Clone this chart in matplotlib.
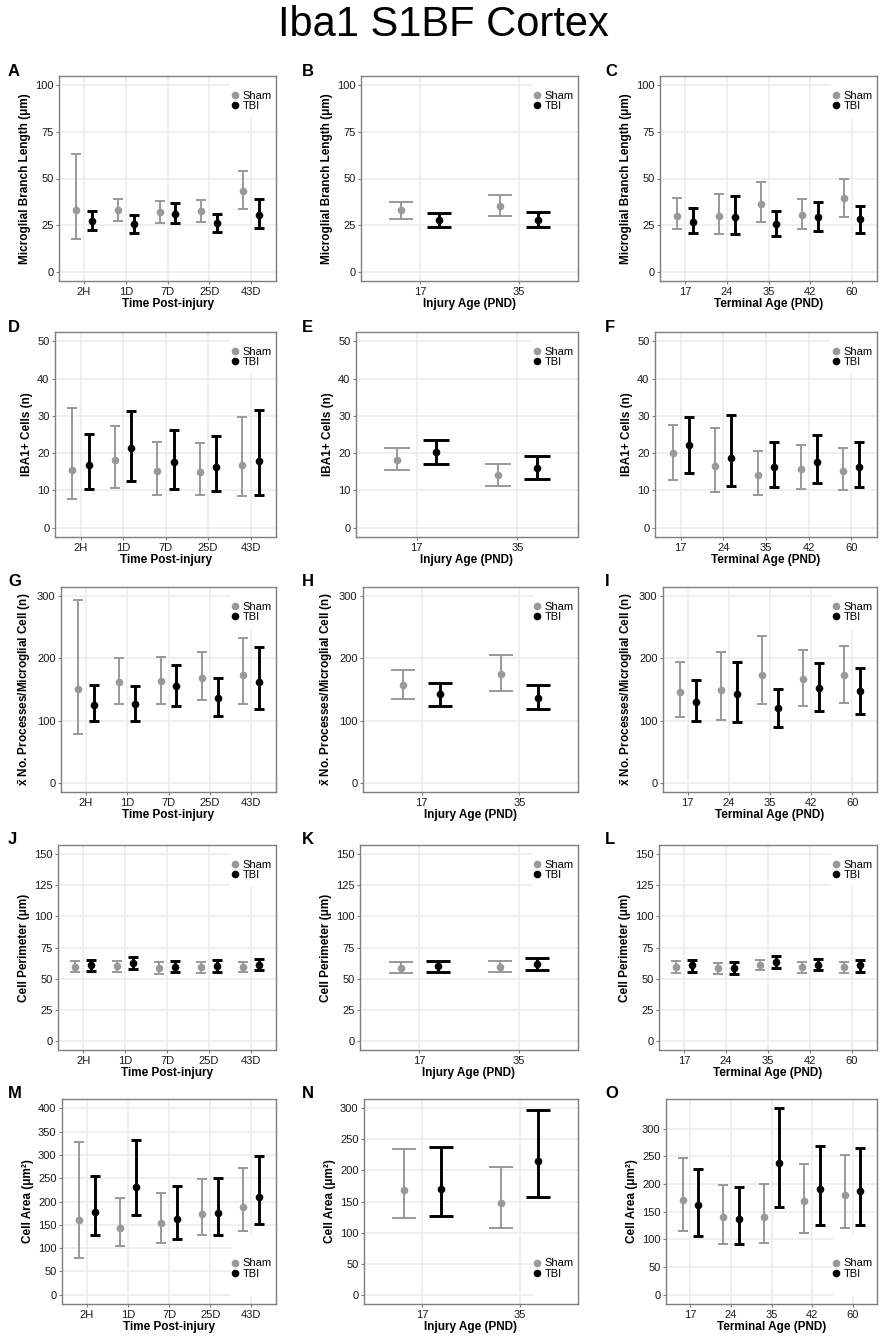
import matplotlib.pyplot as plt
from matplotlib.lines import Line2D
from matplotlib.patches import Rectangle

plt.rcParams['font.family'] = ['Liberation Sans', 'DejaVu Sans']
plt.rcParams['mathtext.fontset'] = 'custom'
plt.rcParams['mathtext.bf'] = 'Liberation Sans:bold'

# categories
time_cats = ["2H", "1D", "7D", "25D", "43D"]
injury_cats = ["17", "35"]
terminal_cats = ["17", "24", "35", "42", "60"]

# each entry: (mean, lower, upper)
# branch length
a_sham = [(33.0, 17.5, 63.4), (33.0, 27.0, 39.0), (31.8, 25.9, 37.9), (32.7, 26.8, 38.6), (43.2, 33.6, 54.0)]
a_tbi = [(27.1, 22.3, 32.5), (25.5, 20.9, 30.4), (31.2, 25.9, 37.0), (25.9, 21.4, 30.9), (30.4, 23.2, 38.8)]
b_sham = [(32.9, 28.2, 37.5), (35.2, 29.8, 41.1)]
b_tbi = [(27.7, 24.1, 31.6), (27.7, 23.8, 32.1)]
c_sham = [(29.8, 22.7, 39.3), (29.8, 20.2, 41.8), (36.1, 26.8, 48.2), (30.4, 22.9, 38.8), (39.8, 29.5, 49.5)]
c_tbi = [(26.8, 20.5, 34.3), (29.3, 20.0, 40.7), (25.5, 18.9, 32.5), (29.3, 22.0, 37.3), (28.2, 20.9, 35.4)]

# IBA1+ cells
d_sham = [(15.6, 7.6, 32.0), (18.2, 10.6, 27.4), (15.1, 8.75, 23.1), (14.9, 8.75, 22.8), (16.9, 8.5, 29.6)]
d_tbi = [(16.7, 10.3, 25.2), (21.3, 12.5, 31.4), (17.6, 10.3, 26.3), (16.3, 9.8, 24.6), (17.9, 8.8, 31.7)]
e_sham = [(18.2, 15.4, 21.4), (14.2, 11.3, 17.1)]
e_tbi = [(20.2, 17.2, 23.4), (16.0, 13.1, 19.1)]
f_sham = [(20.0, 12.8, 27.6), (16.5, 9.7, 26.8), (14.2, 8.9, 20.5), (15.7, 10.4, 22.1), (15.2, 10.1, 21.4)]
f_tbi = [(22.2, 14.6, 29.8), (18.8, 11.1, 30.3), (16.4, 11.0, 22.9), (17.7, 11.9, 24.8), (16.2, 10.9, 22.9)]

# processes per microglial cell
g_sham = [(151, 78, 294), (162, 127, 200), (163, 127, 202), (168, 133, 211), (173, 127, 233)]
g_tbi = [(125, 99.5, 158), (127, 100, 156), (156, 124, 190), (136, 107, 168), (162, 119, 219)]
h_sham = [(157, 134, 181), (175, 147, 206)]
h_tbi = [(142, 124, 160), (137, 118, 158)]
i_sham = [(146, 105, 195), (149, 101, 211), (174, 127, 236), (167, 124, 213), (173, 129, 220)]
i_tbi = [(130, 100, 166), (143, 97, 194), (120, 90, 151), (153, 115, 193), (147, 110, 184)]

# cell perimeter
j_sham = [(59.7, 55.0, 64.0), (60.0, 55.4, 64.2), (58.6, 53.8, 63.0), (59.4, 54.8, 63.4), (59.7, 55.0, 63.7)]
j_tbi = [(61.0, 56.0, 65.3), (62.6, 57.8, 67.5), (59.4, 55.0, 64.0), (60.2, 55.6, 64.8), (61.3, 56.5, 66.1)]
k_sham = [(58.9, 54.3, 63.2), (59.4, 55.0, 64.0)]
k_tbi = [(60.5, 55.4, 64.5), (62.1, 57.0, 66.7)]
l_sham = [(59.4, 54.8, 64.0), (58.3, 53.5, 62.6), (61.3, 57.0, 65.3), (59.1, 54.6, 63.7), (59.1, 54.6, 63.4)]
l_tbi = [(61.0, 55.6, 65.0), (58.9, 54.0, 63.7), (63.7, 58.9, 68.3), (61.3, 56.5, 65.6), (61.0, 55.6, 65.0)]

# cell area
m_sham = [(160, 78.6, 328.6), (144, 105, 208), (153, 112, 219), (174, 128, 249), (189, 137, 271)]
m_tbi = [(177, 129, 254), (231, 171, 331), (162, 119, 233), (176, 129, 251), (209, 151, 298)]
n_sham = [(168, 123, 235), (148, 108, 206)]
n_tbi = [(170, 126, 237), (215, 157, 297)]
o_sham = [(171.7, 114.5, 247), (139.8, 92, 198), (139.8, 93.4, 199.4), (168.7, 112, 236.7), (179.5, 120.5, 252.4)]
o_tbi = [(161.4, 107, 227), (137.3, 91.6, 194.6), (238.6, 158.4, 337), (191.6, 125.3, 269), (187.3, 125.3, 265)]

SHAM = '#999999'
TBI = '#000000'
FRAME = '#7f7f7f'

W, H = 884, 1339
fig = plt.figure(figsize=(W / 100, H / 100), dpi=100)

fig.text(443 / W, 1 - 25 / H, "Iba1 S1BF Cortex", ha='center', va='center', fontsize=30)

lefts = [[59, 361, 660], [55, 356, 655], [61, 363, 663], [58, 360, 659], [62, 364, 666]]
rights = [276, 578, 877]
tops = [76, 332, 587, 845, 1099]
ph = 205
letter_x = [8, 302, 605]

xlabels = ["Time Post-injury", "Injury Age (PND)", "Terminal Age (PND)"]
cats_by_col = [time_cats, injury_cats, terminal_cats]

rows = [
    dict(data=[(a_sham, a_tbi), (b_sham, b_tbi), (c_sham, c_tbi)], letters="ABC",
         ylabel="Microglial Branch Length (μm)", ticks=[0, 25, 50, 75, 100], lim=(-5, 105)),
    dict(data=[(d_sham, d_tbi), (e_sham, e_tbi), (f_sham, f_tbi)], letters="DEF",
         ylabel="IBA1+ Cells (n)", ticks=[0, 10, 20, 30, 40, 50], lim=(-2.5, 52.5)),
    dict(data=[(g_sham, g_tbi), (h_sham, h_tbi), (i_sham, i_tbi)], letters="GHI",
         ylabel=r"$\mathbf{\bar{x}}$ No. Processes/Microglial Cell (n)", ticks=[0, 100, 200, 300], lim=(-15, 315)),
    dict(data=[(j_sham, j_tbi), (k_sham, k_tbi), (l_sham, l_tbi)], letters="JKL",
         ylabel="Cell Perimeter (μm)", ticks=[0, 25, 50, 75, 100, 125, 150], lim=(-7.5, 157.5)),
]


def draw_panel(r, c, sham, tbi, letter, ylabel, ticks, lim, legend):
    left = lefts[r][c]
    right = rights[c]
    top = tops[r]
    pw = right - left
    ax = fig.add_axes([left / W, 1 - (top + ph) / H, pw / W, ph / H])
    cats = cats_by_col[c]
    n = len(cats)
    unit_px = pw / (n + 0.2)
    cap = 0.125 * unit_px * 0.72
    dodge = 0.19
    for grp, col, lw, off in [(sham, SHAM, 1.4, -dodge), (tbi, TBI, 2.1, dodge)]:
        xs = [i + 1 + off for i in range(n)]
        means = [v[0] for v in grp]
        lo = [v[0] - v[1] for v in grp]
        hi = [v[2] - v[0] for v in grp]
        ax.errorbar(xs, means, yerr=[lo, hi], fmt='o', color=col, ecolor=col,
                    elinewidth=lw, capsize=cap, capthick=lw, markersize=4.5, zorder=3)
    ax.set_xlim(0.4, n + 0.6)
    ax.set_ylim(*lim)
    ax.set_xticks(range(1, n + 1))
    ax.set_xticklabels(cats)
    ax.set_yticks(ticks)
    ax.set_axisbelow(True)
    ax.grid(True, color='#ebebeb', lw=1.1)
    for s in ax.spines.values():
        s.set_color(FRAME)
        s.set_linewidth(1.0)
    ax.tick_params(colors=FRAME, length=2.5, width=0.8, labelcolor='#1a1a1a', labelsize=8, pad=1.5)
    ax.set_xlabel(xlabels[c], fontsize=8.5, fontweight='bold', labelpad=1)
    ax.set_ylabel(ylabel, fontsize=8.5, fontweight='bold', labelpad=3)
    handles = [Line2D([], [], marker='o', ls='', color=SHAM, ms=4.5, label='Sham'),
               Line2D([], [], marker='o', ls='', color=TBI, ms=4.5, label='TBI')]
    if legend == 'top':
        ax.add_patch(Rectangle((0.79, 0.795), 0.21, 0.205, transform=ax.transAxes,
                               facecolor='white', edgecolor='none', zorder=1))
        ax.legend(handles=handles, loc='upper right', bbox_to_anchor=(1.0, 0.95), frameon=False,
                  fontsize=8, handlelength=0.6, handletextpad=0.4, labelspacing=0.05,
                  borderaxespad=0.2, borderpad=0.2)
    else:
        ax.add_patch(Rectangle((0.79, 0.04), 0.21, 0.30, transform=ax.transAxes,
                               facecolor='white', edgecolor='none', zorder=1))
        ax.legend(handles=handles, loc='lower right', bbox_to_anchor=(1.0, 0.10), frameon=False,
                  fontsize=8, handlelength=0.6, handletextpad=0.4, labelspacing=0.05,
                  borderaxespad=0.2, borderpad=0.2)
    fig.text(letter_x[c] / W, 1 - (top - 5) / H, letter, fontsize=12, fontweight='bold',
             ha='left', va='center')
    return ax


for r, row in enumerate(rows):
    for c in range(3):
        sham, tbi = row['data'][c]
        draw_panel(r, c, sham, tbi, row['letters'][c], row['ylabel'], row['ticks'], row['lim'], 'top')

# bottom row: cell area, axis limits differ per panel
area_panels = [
    (m_sham, m_tbi, "M", list(range(0, 401, 50)), (-20, 420)),
    (n_sham, n_tbi, "N", list(range(0, 301, 50)), (-15, 315)),
    (o_sham, o_tbi, "O", list(range(0, 301, 50)), (-16.9, 353.9)),
]
for c, (sham, tbi, letter, ticks, lim) in enumerate(area_panels):
    draw_panel(4, c, sham, tbi, letter, "Cell Area (μm²)", ticks, lim, 'bottom')

fig.savefig("out.png", dpi=100)
